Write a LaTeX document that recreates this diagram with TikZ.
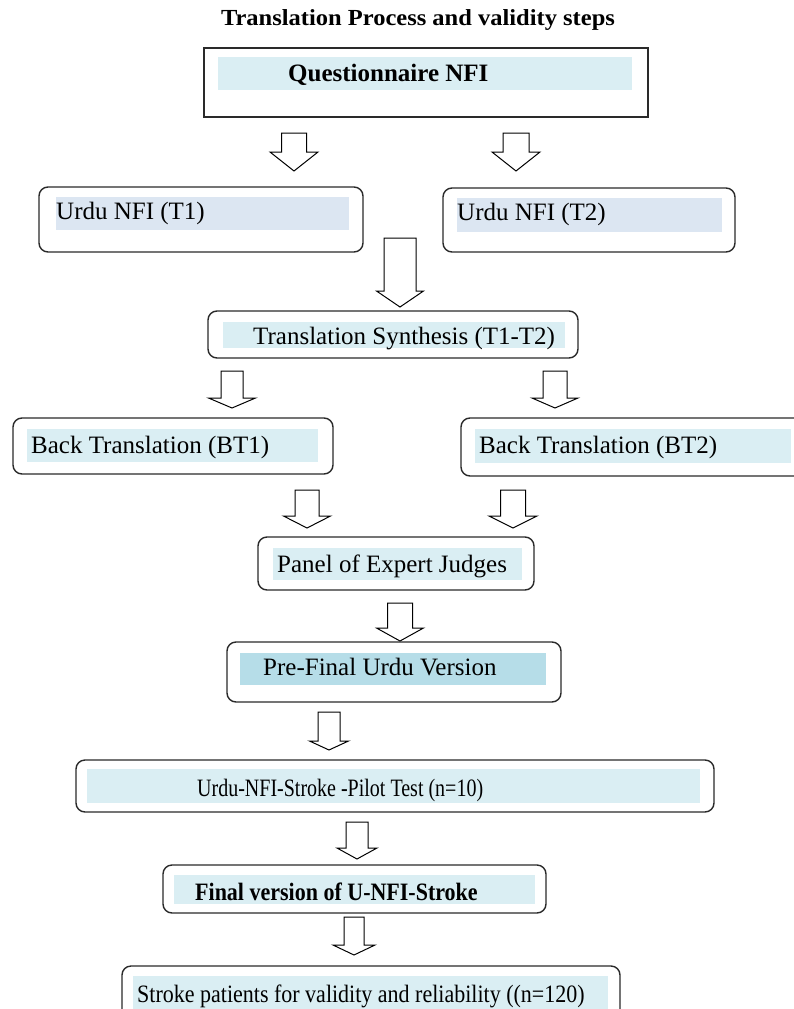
\documentclass[tikz,border=0pt]{standalone}
\usepackage{fontspec}
\setmainfont{Liberation Serif}
\usetikzlibrary{fit}
\definecolor{aqua}{HTML}{DAEEF3}
\definecolor{lav}{HTML}{DCE6F2}
\definecolor{aquad}{HTML}{B6DDE8}
\definecolor{edge}{HTML}{2A2A2A}
\tikzset{
  rbox/.style={draw=edge, line width=1.4pt, rounded corners=9pt, inner sep=0pt},
  sbox/.style={draw=edge, line width=1.4pt, inner sep=0pt},
  band/.style={fill=#1, draw=none, inner sep=0pt},
  lbl/.style={anchor=base west, inner sep=0pt, font=\fontsize{25}{30}\selectfont},
  blbl/.style={anchor=base west, inner sep=0pt, font=\bfseries\fontsize{25}{30}\selectfont},
  barrowstyle/.style={draw=black, line width=1pt, fill=white, line join=miter}
}
% block arrow: name, cx, top, headstart, tip, shaft half width, head half width
\newcommand\blockarrow[7]{%
  \draw[barrowstyle] (#2-#6,#3) -- (#2+#6,#3) -- (#2+#6,#4) -- (#2+#7,#4)
    -- (#2,#5) coordinate (#1) -- (#2-#7,#4) -- (#2-#6,#4) -- cycle;}
\begin{document}
\begin{tikzpicture}[x=1pt,y=-1pt]
\fill[white] (0,0) rectangle (794,1009);
\useasboundingbox (0,0) rectangle (794,1009);
\clip (0,0) rectangle (794,1009);

% title
\node[anchor=base, inner sep=0pt, font=\bfseries\fontsize{25}{30}\selectfont] (title) at (418,25) {\scalebox{0.98}[0.92]{Translation Process and validity steps}};

% Questionnaire
\node[sbox, fit={(204,48) (648,117)}] (q) {};
\node[band=aqua, fit={(218,57) (632,90)}] (qb) {};
\node[blbl] (qt) at (288,81) {Questionnaire NFI};

% T1 / T2
\node[rbox, fit={(39,187) (363,252)}] (t1) {};
\node[band=lav, fit={(56,197) (349,230)}] (t1b) {};
\node[lbl] (t1t) at (56,219) {Urdu NFI (T1)};

\node[rbox, fit={(443,188) (735,252)}] (t2) {};
\node[band=lav, fit={(457,198) (722,232)}] (t2b) {};
\node[lbl] (t2t) at (457,220) {Urdu NFI (T2)};

% Synthesis
\node[rbox, fit={(208,311) (578,358)}] (syn) {};
\node[band=aqua, fit={(223,322) (565,348)}] (synb) {};
\node[lbl] (synt) at (253,344) {Translation Synthesis (T1-T2)};

% Back translations
\node[rbox, fit={(13,418) (333,474)}] (bt1) {};
\node[band=aqua, fit={(27,429) (318,462)}] (bt1b) {};
\node[lbl] (bt1t) at (31,453) {Back Translation (BT1)};

\node[rbox, fit={(461,418) (810,476)}] (bt2) {};
\node[band=aqua, fit={(475,429) (791,463)}] (bt2b) {};
\node[lbl] (bt2t) at (479,453) {Back Translation (BT2)};

% Panel
\node[rbox, fit={(258,537) (534,590)}] (pan) {};
\node[band=aqua, fit={(273,548) (522,580)}] (panb) {};
\node[lbl] (pant) at (277,572) {Panel of Expert Judges};

% Pre-final
\node[rbox, fit={(227,642) (561,702)}] (pre) {};
\node[band=aquad, fit={(240,653) (546,685)}] (preb) {};
\node[lbl] (pret) at (263,675) {Pre-Final Urdu Version};

% Pilot
\node[rbox, fit={(76,760) (714,812)}] (pil) {};
\node[band=aqua, fit={(87,769) (700,803)}] (pilb) {};
\node[lbl] (pilt) at (197,796) {\scalebox{0.8}[1]{Urdu-NFI-Stroke -Pilot Test (n=10)}};

% Final
\node[rbox, fit={(163,865) (546,913)}] (fin) {};
\node[band=aqua, fit={(174,875) (535,904)}] (finb) {};
\node[blbl] (fint) at (195,900) {\scalebox{0.88}[1]{Final version of U-NFI-Stroke}};

% Stroke patients
\node[rbox, fit={(122,966) (620,1030)}] (str) {};
\node[band=aqua, fit={(133,976) (608,1020)}] (strb) {};
\node[lbl] (strt) at (137,1002) {\scalebox{0.88}[1]{Stroke patients for validity and reliability ((n=120)}};

% block arrows
\blockarrow{a1}{294}{133}{152}{171}{12.5}{24}
\blockarrow{a2}{516}{133}{152}{171}{13}{24}
\blockarrow{a3}{400}{238}{291}{307}{16}{23.5}
\blockarrow{a4}{232}{371}{398}{408}{11}{23.5}
\blockarrow{a5}{555}{371}{398}{408}{12}{23}
\blockarrow{a6}{307}{490}{516}{528}{12}{23.5}
\blockarrow{a7}{513}{490}{516}{528}{12.5}{24}
\blockarrow{a8}{400}{603}{628}{641}{12.5}{23.5}
\blockarrow{a9}{329}{712}{741}{750}{11}{19.5}
\blockarrow{a10}{357}{822}{848}{859}{11}{20}
\blockarrow{a11}{354}{917}{945}{955}{10}{21}
\end{tikzpicture}
\end{document}
